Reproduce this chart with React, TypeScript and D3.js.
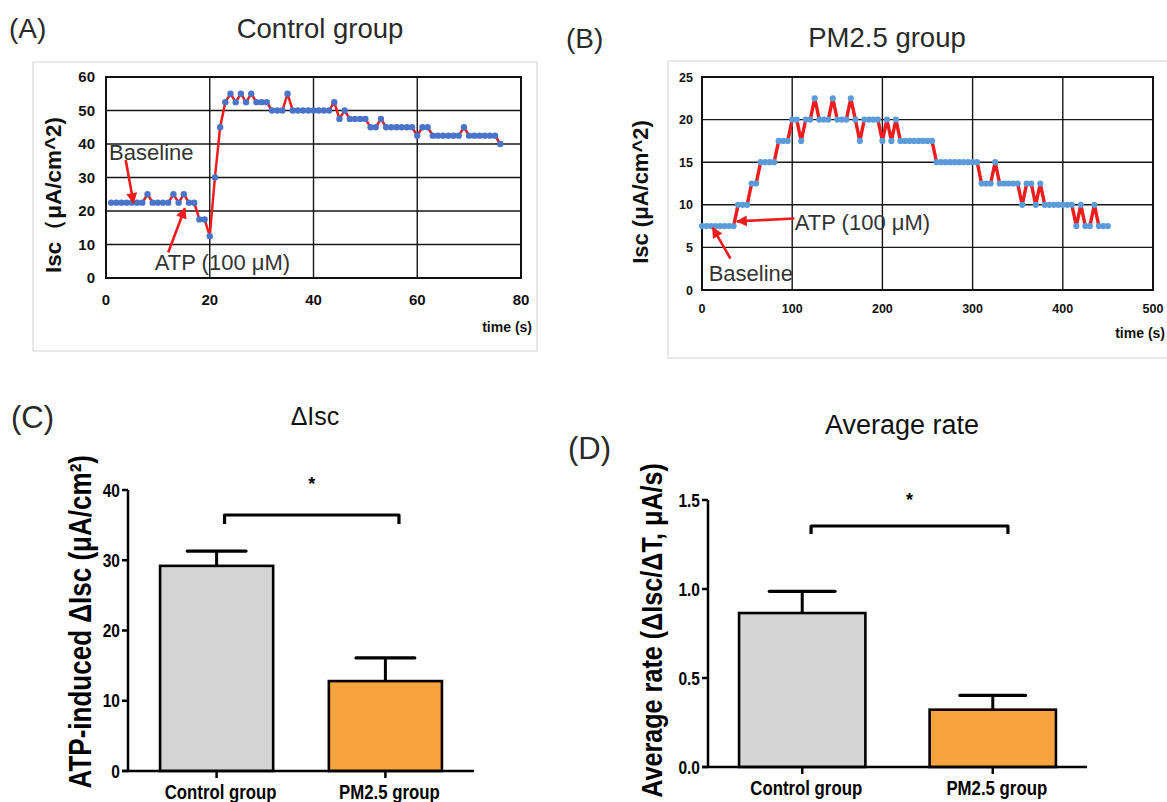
import React from 'react';
import * as d3 from 'd3';

// ---------- Panel A: Control group trace ----------
const ctrlTime = [1,2,3,4,5,6,7,8,9,10,11,12,13,14,15,16,17,18,19,20,21,22,23,24,25,26,27,28,29,30,31,32,33,34,35,36,37,38,39,40,41,42,43,44,45,46,47,48,49,50,51,52,53,54,55,56,57,58,59,60,61,62,63,64,65,66,67,68,69,70,71,72,73,74,75,76];
const ctrlIsc = [22.5,22.5,22.5,22.5,22.5,22.5,22.5,25,22.5,22.5,22.5,22.5,25,22.5,25,22.5,22.5,17.5,17.5,12.5,30,45,52.5,55,52.5,55,52.5,55,52.5,52.5,52.5,50,50,50,55,50,50,50,50,50,50,50,50,52.5,47.5,50,47.5,47.5,47.5,47.5,45,45,47.5,45,45,45,45,45,45,42.5,45,45,42.5,42.5,42.5,42.5,42.5,42.5,45,42.5,42.5,42.5,42.5,42.5,42.5,40];
const ctrlXTicks = [0,20,40,60,80];
const ctrlYTicks = [0,10,20,30,40,50,60];

// ---------- Panel B: PM2.5 group trace ----------
const pmTime = [0,5,10,15,20,25,30,35,40,45,50,55,60,65,70,75,80,85,90,95,100,105,110,115,120,125,130,135,140,145,150,155,160,165,170,175,180,185,190,195,200,205,210,215,220,225,230,235,240,245,250,255,260,265,270,275,280,285,290,295,300,305,310,315,320,325,330,335,340,345,350,355,360,365,370,375,380,385,390,395,400,405,410,415,420,425,430,435,440,445,450];
const pmIsc = [7.5,7.5,7.5,7.5,7.5,7.5,7.5,7.5,10,10,10,12.5,12.5,15,15,15,15,17.5,17.5,17.5,20,20,17.5,20,20,22.5,20,20,20,22.5,20,20,20,22.5,20,17.5,20,20,20,20,17.5,20,17.5,20,17.5,17.5,17.5,17.5,17.5,17.5,17.5,17.5,15,15,15,15,15,15,15,15,15,15,12.5,12.5,12.5,15,12.5,12.5,12.5,12.5,12.5,10,12.5,12.5,10,12.5,10,10,10,10,10,10,10,7.5,10,7.5,7.5,10,7.5,7.5,7.5];
const pmXTicks = [0,100,200,300,400,500];
const pmYTicks = [0,5,10,15,20,25];

// annotations in data units: [textT, textV] and arrow [fromT, fromV, toT, toV]
const ctrlBaselineText = [0.6, 35.2];
const ctrlBaselineArrow = [3.8, 35.2, 5.3, 22.4];
const ctrlAtpText = [9.4, 2.4];
const ctrlAtpArrow = [12.0, 7.6, 15.2, 20.8];
const pmAtpText = [102.8, 7.0];
const pmAtpArrow = [102.5, 8.4, 38.8, 8.05];
const pmBaselineText = [7.4, 1.0];
const pmBaselineArrow = [31.5, 3.7, 11.9, 7.3];

// ---------- Panels C & D: bar charts ----------
const groups = ['Control group', 'PM2.5 group'];
const deltaIscMean = [29.2, 12.8];
const deltaIscErr = [2.1, 3.3];
const deltaTicks = [0, 10, 20, 30, 40];
const rateMean = [0.865, 0.322];
const rateErr = [0.122, 0.08];
const rateTicks = [0, 0.5, 1.0, 1.5];
const barColors = ['#D4D4D4', '#F9A33F'];

const SANS = "'Liberation Sans', Arial, sans-serif";
const RED = '#EE1C1C';
const NARROW_SCALE = 0.84;

type TraceProps = {
  xs: d3.ScaleLinear<number, number>;
  ys: d3.ScaleLinear<number, number>;
  times: number[];
  values: number[];
  xTicks: number[];
  yTicks: number[];
  dotColor: string;
  lineW: number;
  r: number;
  tickSize: number;
  yLabelGap: number;
  xLabelY: number;
};

function Trace(p: TraceProps) {
  const [x0, x1] = p.xs.range();
  const [yb, yt] = p.ys.range();
  const line = d3
    .line<number>()
    .x((_, i) => p.xs(p.times[i]))
    .y((v) => p.ys(v));
  return (
    <g>
      {p.yTicks.map((t) => (
        <line key={'gy' + t} x1={x0} x2={x1} y1={p.ys(t)} y2={p.ys(t)} stroke="#161616" strokeWidth={1.4} />
      ))}
      {p.xTicks.map((t) => (
        <line key={'gx' + t} x1={p.xs(t)} x2={p.xs(t)} y1={yt} y2={yb} stroke="#161616" strokeWidth={1.4} />
      ))}
      <rect x={x0} y={yt} width={x1 - x0} height={yb - yt} fill="none" stroke="#111" strokeWidth={2} />
      <path d={line(p.values) || ''} fill="none" stroke={RED} strokeWidth={p.lineW} strokeLinejoin="round" />
      {p.values.map((v, i) => (
        <circle key={'d' + i} cx={p.xs(p.times[i])} cy={p.ys(v)} r={p.r} fill={p.dotColor} />
      ))}
      {p.yTicks.map((t) => (
        <text key={'ly' + t} x={x0 - p.yLabelGap} y={p.ys(t)} dy="0.36em" textAnchor="end" fontFamily={SANS} fontWeight="bold" fontSize={p.tickSize} fill="#111">
          {t}
        </text>
      ))}
      {p.xTicks.map((t) => (
        <text key={'lx' + t} x={p.xs(t)} y={p.xLabelY} textAnchor="middle" fontFamily={SANS} fontWeight="bold" fontSize={p.tickSize} fill="#111">
          {t}
        </text>
      ))}
    </g>
  );
}

type BarProps = {
  x: d3.ScaleBand<string>;
  y: d3.ScaleLinear<number, number>;
  means: number[];
  errs: number[];
  ticks: number[];
  fmt: (v: number) => string;
  bracketY: number;
  bracketDrop: number;
  starY: number;
  labelY: number;
  axisX: number;
};

function BarPanel(p: BarProps) {
  const bw = p.x.bandwidth();
  const [xStart, xEnd] = p.x.range();
  const y0 = p.y(0);
  const yTop = p.y(p.ticks[p.ticks.length - 1]);
  const c1 = (p.x(groups[0]) as number) + bw / 2;
  const c2 = (p.x(groups[1]) as number) + bw / 2;
  const bx1 = c1 + 0.07 * bw;
  const bx2 = c2 + 0.12 * bw;
  return (
    <g>
      {groups.map((g, i) => {
        const bx = p.x(g) as number;
        const c = bx + bw / 2;
        const top = p.y(p.means[i]);
        const et = p.y(p.means[i] + p.errs[i]);
        return (
          <g key={g}>
            <line x1={c} x2={c} y1={top} y2={et} stroke="#000" strokeWidth={3} />
            <line x1={c - bw * 0.26} x2={c + bw * 0.26} y1={et} y2={et} stroke="#000" strokeWidth={3.2} strokeLinecap="round" />
            <rect x={bx} y={top} width={bw} height={y0 - top} fill={barColors[i]} stroke="#000" strokeWidth={2.6} />
            <line x1={c} x2={c} y1={y0} y2={y0 + 7} stroke="#000" strokeWidth={2.5} />
            <text transform={`translate(${c + 4},${p.labelY}) scale(${NARROW_SCALE},1)`} textAnchor="middle" fontFamily={SANS} fontWeight="bold" fontSize={20} fill="#000">
              {g}
            </text>
          </g>
        );
      })}
      <line x1={p.axisX} x2={p.axisX} y1={yTop} y2={y0} stroke="#000" strokeWidth={2.5} />
      <line x1={xStart - 6} x2={xEnd} y1={y0} y2={y0} stroke="#000" strokeWidth={2.5} />
      {p.ticks.map((t) => (
        <g key={'t' + t}>
          <line x1={p.axisX - 6} x2={p.axisX} y1={p.y(t)} y2={p.y(t)} stroke="#000" strokeWidth={2.5} />
          <text transform={`translate(${p.axisX - 8},${p.y(t)}) scale(${NARROW_SCALE},1)`} dy="0.36em" textAnchor="end" fontFamily={SANS} fontWeight="bold" fontSize={18.5} fill="#000">
            {p.fmt(t)}
          </text>
        </g>
      ))}
      <path
        d={`M${bx1},${p.bracketY + p.bracketDrop} L${bx1},${p.bracketY} L${bx2},${p.bracketY} L${bx2},${p.bracketY + p.bracketDrop}`}
        fill="none"
        stroke="#000"
        strokeWidth={3.2}
        strokeLinejoin="round"
      />
      <text x={(bx1 + bx2) / 2} y={p.starY} dy="0.5em" textAnchor="middle" fontFamily={SANS} fontWeight="bold" fontSize={18} fill="#000">
        *
      </text>
    </g>
  );
}

export default function App() {
  // Panel A scales
  const ax = d3.scaleLinear().domain([0, 80]).range([106, 521]);
  const ay = d3.scaleLinear().domain([0, 60]).range([278, 77]);
  // Panel B scales
  const bxs = d3.scaleLinear().domain([0, 500]).range([702, 1153]);
  const bys = d3.scaleLinear().domain([0, 25]).range([290, 77]);
  // Panel C scales
  const cx = d3.scaleBand<string>().domain(groups).range([128, 474]).paddingInner(0.33).paddingOuter(0.19);
  const cy = d3.scaleLinear().domain([0, 40]).range([771, 490]);
  // Panel D scales
  const dx = d3.scaleBand<string>().domain(groups).range([708, 1087]).paddingInner(0.337).paddingOuter(0.163);
  const dy = d3.scaleLinear().domain([0, 1.5]).range([767, 500]);

  const annoText = { fontFamily: SANS, fontSize: 22, fill: '#333' } as const;

  return (
    <svg width={1167} height={802} style={{ position: 'absolute', left: 0, top: 0, background: '#fff' }} xmlns="http://www.w3.org/2000/svg">
      <defs>
        <marker id="arrowRed" viewBox="0 0 10 10" refX="9" refY="5" markerWidth="5" markerHeight="4.2" orient="auto" markerUnits="strokeWidth">
          <path d="M0,0 L10,5 L0,10 z" fill={RED} />
        </marker>
      </defs>
      <rect x={0} y={0} width={1167} height={802} fill="#fff" />

      {/* ---------- Panel A ---------- */}
      <rect x={33} y={62} width={504} height={289} fill="none" stroke="#d9d9d9" strokeWidth={1.2} />
      <text x={9} y={38} fontFamily={SANS} fontSize={28} fill="#2a2a2a">(A)</text>
      <text x={320} y={38} textAnchor="middle" fontFamily={SANS} fontSize={27.5} fill="#2a2a2a">Control group</text>
      <Trace xs={ax} ys={ay} times={ctrlTime} values={ctrlIsc} xTicks={ctrlXTicks} yTicks={ctrlYTicks} dotColor="#4A74C9" lineW={2.5} r={3.2} tickSize={15} yLabelGap={11} xLabelY={304.5} />
      <text transform="translate(53,195) rotate(-90)" textAnchor="middle" dy="0.35em" fontFamily={SANS} fontWeight="bold" fontSize={22.5} fill="#111">
        Isc（μA/cm^2)
      </text>
      <text x={532} y={332} textAnchor="end" fontFamily={SANS} fontWeight="bold" fontSize={14} fill="#111">time (s)</text>
      <text x={ax(ctrlBaselineText[0])} y={ay(ctrlBaselineText[1])} {...annoText}>Baseline</text>
      <line x1={ax(ctrlBaselineArrow[0])} y1={ay(ctrlBaselineArrow[1])} x2={ax(ctrlBaselineArrow[2])} y2={ay(ctrlBaselineArrow[3])} stroke={RED} strokeWidth={2.6} markerEnd="url(#arrowRed)" />
      <text x={ax(ctrlAtpText[0])} y={ay(ctrlAtpText[1])} {...annoText}>ATP (100 μM)</text>
      <line x1={ax(ctrlAtpArrow[0])} y1={ay(ctrlAtpArrow[1])} x2={ax(ctrlAtpArrow[2])} y2={ay(ctrlAtpArrow[3])} stroke={RED} strokeWidth={2.6} markerEnd="url(#arrowRed)" />

      {/* ---------- Panel B ---------- */}
      <rect x={668} y={61} width={520} height={297} fill="none" stroke="#d9d9d9" strokeWidth={1.2} />
      <text x={566} y={48} fontFamily={SANS} fontSize={28} fill="#2a2a2a">(B)</text>
      <text x={887} y={47} textAnchor="middle" fontFamily={SANS} fontSize={27.5} fill="#2a2a2a">PM2.5 group</text>
      <Trace xs={bxs} ys={bys} times={pmTime} values={pmIsc} xTicks={pmXTicks} yTicks={pmYTicks} dotColor="#5B9BD9" lineW={3.4} r={3.1} tickSize={12.5} yLabelGap={9} xLabelY={312.5} />
      <text transform="translate(640,192) rotate(-90)" textAnchor="middle" dy="0.35em" fontFamily={SANS} fontWeight="bold" fontSize={22} fill="#111">
        Isc  (μA/cm^2)
      </text>
      <text x={1165} y={338} textAnchor="end" fontFamily={SANS} fontWeight="bold" fontSize={14} fill="#111">time (s)</text>
      <text x={bxs(pmAtpText[0])} y={bys(pmAtpText[1])} {...annoText}>ATP (100 μM)</text>
      <line x1={bxs(pmAtpArrow[0])} y1={bys(pmAtpArrow[1])} x2={bxs(pmAtpArrow[2])} y2={bys(pmAtpArrow[3])} stroke={RED} strokeWidth={2.6} markerEnd="url(#arrowRed)" />
      <text x={bxs(pmBaselineText[0])} y={bys(pmBaselineText[1])} {...annoText}>Baseline</text>
      <line x1={bxs(pmBaselineArrow[0])} y1={bys(pmBaselineArrow[1])} x2={bxs(pmBaselineArrow[2])} y2={bys(pmBaselineArrow[3])} stroke={RED} strokeWidth={2.6} markerEnd="url(#arrowRed)" />

      {/* ---------- Panel C ---------- */}
      <text x={11} y={428} fontFamily={SANS} fontSize={31} fill="#2a2a2a">(C)</text>
      <text x={315} y={425} textAnchor="middle" fontFamily={SANS} fontSize={25} fill="#111">ΔIsc</text>
      <BarPanel x={cx} y={cy} means={deltaIscMean} errs={deltaIscErr} ticks={deltaTicks} fmt={(v) => String(v)} bracketY={515} bracketDrop={9} starY={481} labelY={799} axisX={128} />
      <text transform={`translate(80,455) rotate(-90) scale(${NARROW_SCALE},1)`} textAnchor="end" dy="0.35em" fontFamily={SANS} fontWeight="bold" fontSize={31} fill="#000">
        ATP-induced ΔIsc (μA/cm²)
      </text>

      {/* ---------- Panel D ---------- */}
      <text x={568} y={459} fontFamily={SANS} fontSize={31} fill="#2a2a2a">(D)</text>
      <text x={902} y={434} textAnchor="middle" fontFamily={SANS} fontSize={27} fill="#111">Average rate</text>
      <BarPanel x={dx} y={dy} means={rateMean} errs={rateErr} ticks={rateTicks} fmt={(v) => v.toFixed(1)} bracketY={526} bracketDrop={8} starY={497} labelY={795} axisX={708} />
      <text transform={`translate(651,463) rotate(-90) scale(${NARROW_SCALE},1)`} textAnchor="end" dy="0.35em" fontFamily={SANS} fontWeight="bold" fontSize={30} fill="#000">
        Average rate (ΔIsc/ΔT, μA/s)
      </text>
    </svg>
  );
}
